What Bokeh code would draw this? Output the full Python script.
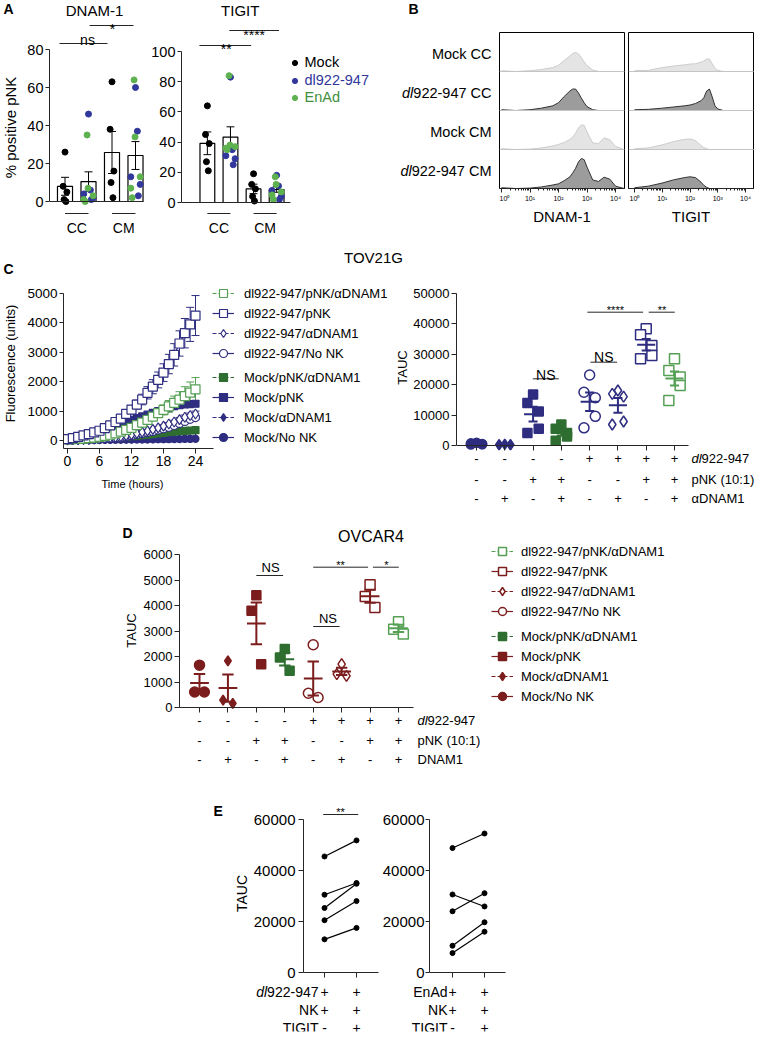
import math
from bokeh.plotting import figure
from bokeh.models import (Range1d, LinearAxis, LogAxis, FixedTicker, Legend, LegendItem, Span,
                          ColumnDataSource, Whisker, TeeHead, Grid)
from bokeh.layouts import row, column
from bokeh.embed import file_html
from bokeh.resources import INLINE
from bokeh.core.properties import value

# ======================= DATA =======================
# --- A: % positive pNK ---
a_group_labels = ["CC", "CM"]
a_legend_labels = ["Mock", "dl922-947", "EnAd"]
dnam_mock_cc = [26, 8, 5, 1, 0]
dnam_dl_cc = [46, 6, 4, 2, 1]
dnam_enad_cc = [35, 7, 3, 1, 0]
dnam_mock_cm = [63, 38, 16, 10, 2]
dnam_dl_cm = [60, 37, 13, 9, 3]
dnam_enad_cm = [64, 34, 13, 7, 2]
tigit_mock_cc = [64, 45, 39, 27, 21]
tigit_dl_cc = [83, 35, 31, 29, 25]
tigit_enad_cc = [84, 38, 37, 36, 35]
tigit_mock_cm = [19, 12, 9, 4, 1]
tigit_dl_cm = [18, 11, 8, 4, 2]
tigit_enad_cm = [17, 12, 7, 5, 2]

# --- B: flow histograms (log10 intensity grid, normalised counts) ---
b_row_labels = ["Mock CC", "dl922-947 CC", "Mock CM", "dl922-947 CM"]
b_axis_ticks = [1, 10, 100, 1000, 10000]
b_tick_labels = ["10\u2070", "10\u00b9", "10\u00b2", "10\u00b3", "10\u2074"]
hist_log10 = [0.0, 0.5, 1.0, 1.4, 1.8, 2.0, 2.2, 2.4, 2.5, 2.6, 2.7, 2.8, 2.9, 3.0, 3.2, 3.4, 3.6, 3.8, 4.0, 4.3]
dnam_mock_cc_h = [0.02, 0.0, 0.02, 0.05, 0.10, 0.16, 0.28, 0.40, 0.46, 0.49, 0.45, 0.36, 0.25, 0.15, 0.04, 0.0, 0.0, 0.0, 0.0, 0.0]
dnam_dl_cc_h = [0.02, 0.0, 0.02, 0.06, 0.12, 0.20, 0.36, 0.50, 0.55, 0.55, 0.45, 0.32, 0.20, 0.10, 0.02, 0.0, 0.0, 0.0, 0.0, 0.0]
dnam_mock_cm_h = [0.02, 0.0, 0.01, 0.04, 0.09, 0.13, 0.18, 0.26, 0.32, 0.42, 0.55, 0.63, 0.62, 0.45, 0.17, 0.15, 0.30, 0.25, 0.08, 0.0]
dnam_dl_cm_h = [0.02, 0.0, 0.01, 0.04, 0.09, 0.12, 0.20, 0.30, 0.40, 0.52, 0.68, 0.77, 0.74, 0.55, 0.22, 0.18, 0.29, 0.24, 0.06, 0.0]
tigit_mock_cc_h = [0.02, 0.03, 0.10, 0.14, 0.17, 0.19, 0.20, 0.24, 0.27, 0.32, 0.32, 0.20, 0.08, 0.03, 0.0, 0.0, 0.0, 0.0, 0.0, 0.0]
tigit_dl_cc_h = [0.02, 0.03, 0.06, 0.09, 0.12, 0.14, 0.18, 0.25, 0.33, 0.50, 0.55, 0.35, 0.12, 0.04, 0.0, 0.0, 0.0, 0.0, 0.0, 0.0]
tigit_mock_cm_h = [0.02, 0.04, 0.12, 0.20, 0.26, 0.27, 0.23, 0.10, 0.05, 0.02, 0.0, 0.0, 0.0, 0.0, 0.0, 0.0, 0.0, 0.0, 0.0, 0.0]
tigit_dl_cm_h = [0.02, 0.06, 0.14, 0.22, 0.28, 0.30, 0.28, 0.16, 0.08, 0.03, 0.0, 0.0, 0.0, 0.0, 0.0, 0.0, 0.0, 0.0, 0.0, 0.0]

# --- C: TOV21G fluorescence time course ---
hours = list(range(25))
c_time_ticks = [0, 6, 12, 18, 24]
c_fluo_ticks = [0, 1000, 2000, 3000, 4000, 5000]
c_dl_pnk_ab = [40, 45, 55, 65, 80, 100, 125, 155, 195, 245, 300, 360, 430, 520, 610, 700, 810, 930, 1040, 1160, 1280, 1390, 1510, 1630, 1740]
c_dl_pnk_ab_sem = [10, 10, 10, 12, 15, 18, 20, 25, 30, 35, 40, 50, 60, 70, 85, 100, 120, 140, 170, 200, 230, 270, 320, 360, 400]
c_dl_pnk = [46, 80, 126, 171, 217, 274, 331, 423, 514, 629, 743, 903, 1051, 1223, 1394, 1623, 1830, 2060, 2309, 2600, 2914, 3300, 3650, 3950, 4250]
c_dl_pnk_sem = [20, 20, 25, 30, 35, 40, 50, 60, 70, 80, 90, 110, 130, 150, 180, 210, 240, 270, 300, 330, 380, 430, 500, 580, 680]
c_dl_ab = [20, 25, 30, 35, 40, 50, 60, 75, 90, 110, 135, 165, 200, 240, 285, 330, 380, 430, 490, 560, 630, 710, 790, 850, 900]
c_dl_ab_sem = [5, 5, 5, 5, 5, 6, 7, 8, 10, 12, 14, 16, 18, 20, 24, 28, 32, 36, 42, 50, 58, 66, 75, 85, 100]
c_dl_nonk = [20, 22, 25, 30, 35, 42, 50, 62, 75, 90, 110, 135, 165, 200, 235, 270, 310, 355, 400, 450, 510, 580, 650, 720, 780]
c_dl_nonk_sem = [4, 4, 4, 5, 5, 6, 6, 7, 8, 9, 10, 12, 14, 16, 18, 20, 24, 28, 32, 36, 40, 46, 52, 60, 70]
c_mock_pnk_ab = [25, 30, 35, 40, 50, 60, 70, 80, 90, 100, 115, 130, 145, 160, 180, 200, 220, 240, 260, 280, 300, 315, 330, 340, 350]
c_mock_pnk = [30, 60, 100, 150, 200, 250, 300, 360, 420, 490, 560, 630, 700, 760, 820, 880, 940, 1000, 1060, 1120, 1170, 1200, 1225, 1240, 1250]
c_mock_ab = [10, 12, 14, 16, 18, 20, 22, 25, 28, 31, 34, 37, 40, 43, 46, 49, 52, 55, 58, 61, 64, 67, 70, 72, 75]
c_mock_nonk = [10, 11, 12, 14, 16, 18, 20, 22, 24, 26, 28, 30, 32, 34, 36, 38, 40, 42, 44, 46, 48, 50, 52, 55, 58]

# --- C right / D: TAUC per condition ---
conditions = ["Mock/No NK", "Mock/\u03b1DNAM1", "Mock/pNK", "Mock/pNK/\u03b1DNAM1",
              "dl922-947/No NK", "dl922-947/\u03b1DNAM1", "dl922-947/pNK", "dl922-947/pNK/\u03b1DNAM1"]
tbl_dl = ["-", "-", "-", "-", "+", "+", "+", "+"]
tbl_pnk = ["-", "-", "+", "+", "-", "-", "+", "+"]
tbl_ab = ["-", "+", "-", "+", "-", "+", "-", "+"]
tbl_rows_c = ["dl922-947", "pNK (10:1)", "\u03b1DNAM1"]
tbl_rows_d = ["dl922-947", "pNK (10:1)", "DNAM1"]
tov_ticks = [0, 10000, 20000, 30000, 40000, 50000]
tov_mock_nonk = [900, 700, 500, 400, 300]
tov_mock_ab = [400, 300, 300, 200, 200]
tov_mock_pnk = [16800, 14000, 11200, 5500, 4100]
tov_mock_pnk_ab = [6900, 5500, 4100, 3000, 1600]
tov_dl_nonk = [23200, 17500, 15700, 9600, 5800]
tov_dl_ab = [18100, 17000, 16100, 7900, 6900]
tov_dl_pnk = [38400, 36400, 32900, 29600, 28500]
tov_dl_pnk_ab = [28500, 24700, 22500, 19700, 14800]
ov_ticks = [0, 1000, 2000, 3000, 4000, 5000, 6000]
ov_mock_nonk = [1660, 610, 610]
ov_mock_ab = [1830, 290, 160]
ov_mock_pnk = [4400, 3790, 1700]
ov_mock_pnk_ab = [2290, 1960, 1440]
ov_dl_nonk = [2460, 560, 390]
ov_dl_ab = [1700, 1310, 1240]
ov_dl_pnk = [4810, 4350, 3920]
ov_dl_pnk_ab = [3360, 3070, 2880]

# --- E: paired TAUC, TIGIT blockade ---
e_ticks = [0, 20000, 40000, 60000]
e_left_pos = [1, 2]
e_right_pos = [5, 6]
e_dl_tigit_neg = [45500, 30500, 25300, 20500, 13000]
e_dl_tigit_pos = [51800, 35100, 34800, 28000, 17500]
e_enad_tigit_neg = [48800, 30600, 24000, 10500, 7600]
e_enad_tigit_pos = [54500, 25900, 31100, 19700, 16000]
e_rows_left = ["dl922-947", "NK", "TIGIT"]
e_rows_right = ["EnAd", "NK", "TIGIT"]
e_signs = [["+", "+"], ["+", "+"], ["-", "+"]]

# ======================= STYLE / HELPERS =======================
FONT = "Liberation Sans"
INK = "#262626"
NAVY = "#2e2d80"
GREEN = "#55a055"
DKGREEN = "#2f6e31"
MAROON = "#7c1d1d"
A_BLUE = "#31379b"
A_GREEN = "#5db14f"
A_GREEN_TXT = "#3f8f3f"
LIGHT_FILL, LIGHT_LINE = "#e4e4e4", "#cccccc"
DARK_FILL, DARK_LINE = "#9c9c9c", "#333333"
AW = {'-': 333, ' ': 278, 'C': 722, 'M': 833}
NAN = float("nan")


def tw(s, fs):
    return sum(AW.get(c, 556) for c in s) / 1000.0 * fs


def lin(d0, p0, d1, p1):
    k = (d1 - d0) / (p1 - p0)
    return lambda p: d0 + (p - p0) * k


def mean(v):
    return sum(v) / len(v)


def sem(v):
    m = mean(v)
    n = len(v)
    return math.sqrt(sum((a - m) ** 2 for a in v) / (n - 1)) / math.sqrt(n)


def fig(w, h, xr, yr, L=0, R=0, T=0, B=0, xtype="linear"):
    p = figure(width=w, height=h, x_range=Range1d(*xr), y_range=Range1d(*yr), x_axis_type=xtype,
               x_axis_location=None, y_axis_location=None, title=None, toolbar_location=None,
               output_backend="svg", min_border_left=L, min_border_right=R,
               min_border_top=T, min_border_bottom=B)
    p.center = [c for c in p.center if not isinstance(c, Grid)]
    p.outline_line_color = None
    return p


def W(f):
    # isolate each figure so the layout does not synchronise borders of siblings
    return column(f)


def axis(p, side, ticks, bounds="auto", fixed=None, fs="13px", out=5, tin=0, standoff=2, labels=True,
         overrides=None, log=False, minor=None, label=None, label_fs="13px", label_standoff=5):
    tk = FixedTicker(ticks=list(ticks), minor_ticks=list(minor or []))
    ax = (LogAxis if log else LinearAxis)(ticker=tk, bounds=bounds, fixed_location=fixed)
    ax.axis_line_color = INK
    ax.axis_line_width = 1
    ax.major_tick_line_color = INK
    ax.major_tick_out = out
    ax.major_tick_in = tin
    if minor:
        ax.minor_tick_line_color = INK
        ax.minor_tick_out = 2
        ax.minor_tick_in = 0
    else:
        ax.minor_tick_line_color = None
    ax.major_label_standoff = standoff if labels else 0
    ax.major_label_text_font = FONT
    ax.major_label_text_font_size = fs if labels else "0px"
    ax.major_label_text_color = "black" if labels else None
    if overrides:
        ax.major_label_overrides = overrides
    if label:
        ax.axis_label = label
        ax.axis_label_text_font = FONT
        ax.axis_label_text_font_size = label_fs
        ax.axis_label_text_font_style = "normal"
        ax.axis_label_text_color = "black"
        ax.axis_label_standoff = label_standoff
    p.add_layout(ax, side)
    return ax


def txt(p, xs, ys, texts, fs, align="center", baseline="middle", color="black", style="normal", angle=0.0):
    p.text(x=list(xs), y=list(ys), text=list(texts), text_font=value(FONT), text_font_size=value(fs),
           text_align=align, text_baseline=baseline, text_color=color, text_font_style=style, angle=angle)


def mixed(p, X, px, y, s, fsn, align):
    fs = "%gpx" % fsn
    if s.startswith("dl"):
        rest = s[2:]
        if align == "left":
            txt(p, [X(px)], [y], ["dl"], fs, align="left", style="italic")
            txt(p, [X(px + 0.778 * fsn)], [y], [rest], fs, align="left")
        else:
            txt(p, [X(px)], [y], [rest], fs, align="right")
            txt(p, [X(px - tw(rest, fsn))], [y], ["dl"], fs, align="right", style="italic")
    else:
        txt(p, [X(px)], [y], [s], fs, align=align)


def sig(p, Y, x0, x1, ypx, label, tx, tbase, fs):
    p.segment(x0=[x0], y0=[Y(ypx)], x1=[x1], y1=[Y(ypx)], line_color=INK, line_width=1)
    txt(p, [tx], [Y(tbase)], [label], fs, baseline="alphabetic")


def legend(p, items, loc, gw, gh, fs, standoff, color="black"):
    lg = Legend(items=[LegendItem(label=value(l), renderers=r) for l, r in items], location=loc,
                glyph_width=gw, glyph_height=gh, label_height=gh, label_standoff=standoff, spacing=0,
                padding=0, margin=0, border_line_color=None, background_fill_alpha=0,
                label_text_font=FONT, label_text_font_size=fs, label_text_color=color)
    p.add_layout(lg)


ident = lambda v: v
JIT_MOCK = [0.0, -0.08, 0.08, -0.04, 0.04]
JIT_BLUE = [0.0, 0.08, -0.2, 0.2, 0.12]
JIT_GREEN = [-0.06, -0.02, 0.2, -0.2, -0.14]
JIT5 = [0.0, -0.2, 0.2, 0.2, -0.2]
JIT3 = [0.0, -0.17, 0.17]

# ======================= ROW 1 : A + B  (y 0-240) =======================
H1 = 240
a0 = fig(20, H1, (0, 20), (H1, 0))
txt(a0, [3], [8], ["A"], "14px", align="left", style="bold")
txt(a0, [10], [127], ["% positive pNK"], "15px", angle=math.pi / 2)


def bar_panel(p, Y, mock_cc, dl_cc, en_cc, mock_cm, dl_cm, en_cm):
    pos = [1, 2, 3, 4]
    groups = [mock_cc, dl_cc + en_cc, mock_cm, dl_cm + en_cm]
    ms = [mean(g) for g in groups]
    ss = [sem(g) for g in groups]
    p.vbar(x=pos, top=ms, width=0.64, bottom=0, fill_color="white", line_color="black", line_width=1.2)
    p.segment(x0=pos, y0=[m - s for m, s in zip(ms, ss)], x1=pos, y1=[m + s for m, s in zip(ms, ss)],
              line_color="black", line_width=1)
    for sgn in (1, -1):
        p.segment(x0=[x - 0.17 for x in pos], y0=[m + sgn * s for m, s in zip(ms, ss)],
                  x1=[x + 0.17 for x in pos], y1=[m + sgn * s for m, s in zip(ms, ss)],
                  line_color="black", line_width=1)
    mx = [pos[0] + j for j in JIT_MOCK] + [pos[2] + j for j in JIT_MOCK]
    r_mock = p.scatter(x=mx, y=mock_cc + mock_cm, size=6, color="black")
    bx = [pos[1] + j for j in JIT_BLUE] + [pos[3] + j for j in JIT_BLUE]
    r_blue = p.scatter(x=bx, y=dl_cc + dl_cm, size=6, color=A_BLUE)
    gx = [pos[1] + j for j in JIT_GREEN] + [pos[3] + j for j in JIT_GREEN]
    r_green = p.scatter(x=gx, y=en_cc + en_cm, size=6, color=A_GREEN)
    p.segment(x0=pos[0::2], y0=[Y(213)] * 2, x1=pos[1::2], y1=[Y(213)] * 2, line_color=INK, line_width=1)
    txt(p, [(a + b) / 2 for a, b in zip(pos[0::2], pos[1::2])], [Y(227)] * 2, a_group_labels, "14px")
    return r_mock, r_blue, r_green


XA1 = lin(1, 64.5, 2, 88.0)
YA1 = lin(0, 201, 80, 49)
a1 = fig(128, H1, (XA1(49), XA1(148)), (YA1(236), YA1(0)), L=29, B=4)
axis(a1, "left", [0, 20, 40, 60, 80], (0, 80), fs="14.5px", out=4, standoff=2)
axis(a1, "below", [], (XA1(49), XA1(143)), fixed=0, out=0, labels=False)
bar_panel(a1, YA1, dnam_mock_cc, dnam_dl_cc, dnam_enad_cc, dnam_mock_cm, dnam_dl_cm, dnam_enad_cm)
txt(a1, [XA1(94)], [YA1(9.5)], ["DNAM-1"], "15px")
sig(a1, YA1, XA1(59), XA1(107), 43, "ns", XA1(87), 39.5, "14px")
sig(a1, YA1, XA1(89), XA1(133), 25, "*", XA1(112), 28, "14px")

XA2 = lin(1, 206, 2, 229.2)
YA2 = lin(0, 202, 100, 51)
a2 = fig(238, H1, (XA2(180), XA2(386)), (YA2(236), YA2(0)), L=32, B=4)
axis(a2, "left", [0, 20, 40, 60, 80, 100], (0, 100), fs="14.5px", out=4, standoff=2)
axis(a2, "below", [], (XA2(180), XA2(290)), fixed=0, out=0, labels=False)
rm, rb, rg = bar_panel(a2, YA2, tigit_mock_cc, tigit_dl_cc, tigit_enad_cc, tigit_mock_cm, tigit_dl_cm, tigit_enad_cm)
txt(a2, [XA2(239)], [YA2(9.5)], ["TIGIT"], "15px")
sig(a2, YA2, XA2(198), XA2(250), 45, "**", XA2(225), 48, "14px")
sig(a2, YA2, XA2(228), XA2(278), 30, "****", XA2(253), 34, "14px")
for (lab, r, col), ly in zip(zip(a_legend_labels, [rm, rb, rg], ["black", A_BLUE, A_GREEN_TXT]),
                             [165.5, 147.5, 130.5]):
    legend(a2, [(lab, [r])], (106.5, ly), 13, 17, "14.5px", 4, color=col)

b0 = fig(113, H1, (386, 499), (H1, 0))
txt(b0, [408], [8], ["B"], "14px", align="left", style="bold")
for i, lab in enumerate(b_row_labels):
    mixed(b0, ident, 491, 32 + 39 * (i + 0.5) + 2, lab, 14.5, "right")

SUP = {t: s for t, s in zip(b_axis_ticks, b_tick_labels)}
MINOR = [k * 10 ** d for d in range(4) for k in range(2, 10)]


def hist_panel(p, hists):
    xs = [10 ** v for v in hist_log10]
    for i, vals in enumerate(hists):
        base = 3 - i
        dark = i % 2 == 1
        top = [base + v for v in vals]
        p.varea(x=xs, y1=[base] * len(xs), y2=top, fill_color=DARK_FILL if dark else LIGHT_FILL)
        p.line(x=xs, y=top, line_color=DARK_LINE if dark else LIGHT_LINE, line_width=1)
    for k in (1, 2, 3):
        p.add_layout(Span(location=k, dimension="width", line_color="#c4c4c4", line_width=1))


LXa = lin(0, 501, 4, 615)
b1 = fig(127, H1, (10 ** LXa(499), 10 ** LXa(624)), (0, 4), R=2, T=32, B=52, xtype="log")
b1.outline_line_color = "black"
hist_panel(b1, [dnam_mock_cc_h, dnam_dl_cc_h, dnam_mock_cm_h, dnam_dl_cm_h])
axis(b1, "below", b_axis_ticks, fs="7px", out=4, standoff=2, overrides=SUP, log=True, minor=MINOR,
     label="DNAM-1", label_fs="15px", label_standoff=3)

LXb = lin(0, 634, 4, 745)
b2 = fig(130, H1, (10 ** LXb(628), 10 ** LXb(753)), (0, 4), L=2, R=3, T=32, B=52, xtype="log")
b2.outline_line_color = "black"
hist_panel(b2, [tigit_mock_cc_h, tigit_dl_cc_h, tigit_mock_cm_h, tigit_dl_cm_h])
axis(b2, "below", b_axis_ticks, fs="7px", out=4, standoff=2, overrides=SUP, log=True, minor=MINOR,
     label="TIGIT", label_fs="15px", label_standoff=3)

# ======================= ROW 2 : C  (y 240-512) =======================
sc = fig(756, 38, (0, 756), (278, 240))
txt(sc, [3], [268], ["C"], "14px", align="left", style="bold")
txt(sc, [373], [257], ["TOV21G"], "15px")

XC = lin(0, 67, 24, 195)
YC = lin(0, 440, 5000, 293)
cl = fig(391, 194, (XC(63), XC(391)), (YC(448), YC(278)), L=63, B=24)
axis(cl, "below", c_time_ticks, (XC(63), XC(213)), fs="14px", out=5, standoff=2)
axis(cl, "left", c_fluo_ticks, (YC(448), 5000), fs="13.5px", out=4, standoff=2,
     label="Fluorescence (units)", label_fs="13px", label_standoff=6)

c_styles = {  # label: (values, sem, color, marker, filled, dashed, size)
    "Mock/No NK": (c_mock_nonk, None, NAVY, "circle", True, False, 7),
    "Mock/\u03b1DNAM1": (c_mock_ab, None, NAVY, "diamond", True, True, 8),
    "Mock/pNK/\u03b1DNAM1": (c_mock_pnk_ab, None, DKGREEN, "square", True, True, 7),
    "Mock/pNK": (c_mock_pnk, None, NAVY, "square", True, False, 7),
    "dl922-947/No NK": (c_dl_nonk, c_dl_nonk_sem, NAVY, "circle", False, False, 8),
    "dl922-947/\u03b1DNAM1": (c_dl_ab, c_dl_ab_sem, NAVY, "diamond", False, True, 10),
    "dl922-947/pNK/\u03b1DNAM1": (c_dl_pnk_ab, c_dl_pnk_ab_sem, GREEN, "square", False, True, 9),
    "dl922-947/pNK": (c_dl_pnk, c_dl_pnk_sem, NAVY, "square", False, False, 9),
}
c_rend = {}
for lab, (vals, er, col, mk, filled, dashed, size) in c_styles.items():
    lr = cl.line(x=hours, y=vals, line_color=col, line_width=1.2, line_dash="4 2" if dashed else "solid")
    if er is not None:
        src = ColumnDataSource(dict(x=hours, lo=[v - e for v, e in zip(vals, er)], hi=[v + e for v, e in zip(vals, er)]))
        cl.add_layout(Whisker(source=src, base="x", lower="lo", upper="hi", dimension="height",
                              line_color=col, line_width=1,
                              upper_head=TeeHead(size=8, line_color=col, line_width=1),
                              lower_head=TeeHead(size=8, line_color=col, line_width=1)))
    sr = cl.scatter(x=hours, y=vals, marker=mk, size=size, line_color=col,
                    fill_color=col if filled else "white", line_width=1.2)
    c_rend[lab] = [lr, sr]
leg_order_1 = ["dl922-947/pNK/\u03b1DNAM1", "dl922-947/pNK", "dl922-947/\u03b1DNAM1", "dl922-947/No NK"]
leg_order_2 = ["Mock/pNK/\u03b1DNAM1", "Mock/pNK", "Mock/\u03b1DNAM1", "Mock/No NK"]
legend(cl, [(l, c_rend[l]) for l in leg_order_1], (149, 85), 22, 20, "13px", 10)
legend(cl, [(l, c_rend[l]) for l in leg_order_2], (149, 1), 22, 20, "13px", 10)

cls = fig(391, 40, (0, 391), (512, 472))
txt(cls, [132], [483], ["Time (hours)"], "11px")


def tauc_panel(p, groups, styles, jit, hw, cap):
    rends = []
    for i, (vals, (mk, col, filled, size)) in enumerate(zip(groups, styles)):
        pos = i + 1
        m, s = mean(vals), sem(vals)
        r = p.scatter(x=[pos + j for j in jit[:len(vals)]], y=vals, marker=mk, size=size, line_color=col,
                      fill_color=col if filled else "white", line_width=1.5)
        rends.append(r)
        p.segment(x0=[pos - hw], y0=[m], x1=[pos + hw], y1=[m], line_color=col, line_width=2)
        p.segment(x0=[pos, pos - cap, pos - cap], y0=[m - s, m + s, m - s],
                  x1=[pos, pos + cap, pos + cap], y1=[m + s, m + s, m - s], line_color=col, line_width=2)
    return rends


# y-axis title of the TAUC panel sits in its own narrow strip
ctl = fig(19, 234, (391, 410), (512, 278))
txt(ctl, [402], [367], ["TAUC"], "13px", angle=math.pi / 2)

XR = lin(1, 476, 8, 674)
YR = lin(0, 445, 50000, 293)
cr = fig(346, 234, (XR(456), XR(756)), (YR(506), YR(289)), L=46, T=11, B=6)
axis(cr, "left", tov_ticks, (0, 50000), fs="13px", out=5, standoff=2)
axis(cr, "below", list(range(1, 9)), (XR(456), XR(688)), fixed=0, out=5, labels=False)
c_tauc_styles = [("circle", NAVY, True, 9), ("diamond", NAVY, True, 10), ("square", NAVY, True, 9),
                 ("square", DKGREEN, True, 9), ("circle", NAVY, False, 10), ("diamond", NAVY, False, 11),
                 ("square", NAVY, False, 10), ("square", GREEN, False, 10)]
tauc_panel(cr, [tov_mock_nonk, tov_mock_ab, tov_mock_pnk, tov_mock_pnk_ab,
                tov_dl_nonk, tov_dl_ab, tov_dl_pnk, tov_dl_pnk_ab], c_tauc_styles, JIT5, 0.32, 0.16)
sig(cr, YR, 2.99, 3.91, 378.3, "NS", 3.45, 374.3, "14px")
sig(cr, YR, 5.03, 5.97, 361.7, "NS", 5.5, 356.7, "14px")
sig(cr, YR, 4.92, 6.89, 311.7, "****", 5.91, 309.6, "11px")
sig(cr, YR, 7.09, 8.01, 311.7, "**", 7.56, 309.6, "11px")
for ypx, signs, lab in zip([458, 479, 498], [tbl_dl, tbl_pnk, tbl_ab], tbl_rows_c):
    txt(cr, list(range(1, 9)), [YR(ypx)] * 8, signs, "13px")
    mixed(cr, XR, 691, YR(ypx), lab, 13, "left")

# ======================= ROW 3 : D  (y 512-776) =======================
XD = lin(1, 199, 8, 398)
YD = lin(0, 707, 6000, 554)
d = fig(756, 264, (XD(80), XD(756)), (YD(766), YD(512)), L=80, B=10)
axis(d, "left", ov_ticks, (0, 6000), fixed=XD(179), fs="13px", out=5, standoff=2)
axis(d, "below", list(range(1, 9)), (XD(179), XD(413)), fixed=0, out=5, labels=False)
txt(d, [XD(131)], [YD(630)], ["TAUC"], "13px", angle=math.pi / 2)
txt(d, [XD(122)], [YD(532)], ["D"], "14px", align="left", style="bold")
txt(d, [XD(370.5)], [YD(536)], ["OVCAR4"], "16px")
d_styles = [("circle", MAROON, True, 10), ("diamond", MAROON, True, 10), ("square", MAROON, True, 9),
            ("square", DKGREEN, True, 9), ("circle", MAROON, False, 10), ("diamond", MAROON, False, 11),
            ("square", MAROON, False, 10), ("square", GREEN, False, 10)]
d_rends = tauc_panel(d, [ov_mock_nonk, ov_mock_ab, ov_mock_pnk, ov_mock_pnk_ab,
                         ov_dl_nonk, ov_dl_ab, ov_dl_pnk, ov_dl_pnk_ab], d_styles, JIT3, 0.33, 0.2)
sig(d, YD, 3.0, 3.94, 575, "NS", 3.5, 567.3, "13px")
sig(d, YD, 5.0, 5.93, 626, "NS", 5.52, 617.7, "13px")
sig(d, YD, 5.0, 6.93, 566.7, "**", 5.96, 564.6, "11px")
sig(d, YD, 7.1, 8.01, 566.7, "*", 7.57, 564.6, "11px")
for ypx, signs, lab in zip([720, 740, 759], [tbl_dl, tbl_pnk, tbl_ab], tbl_rows_d):
    txt(d, list(range(1, 9)), [YD(ypx)] * 8, signs, "13px")
    mixed(d, XD, 417, YD(ypx), lab, 13, "left")
d_dashed = [False, True, False, True, False, True, False, True]
d_leg = {}
for lab, r, (mk, col, filled, size), dash in zip(conditions, d_rends, d_styles, d_dashed):
    # legend-only line sample (a single NaN point draws nothing in the plot)
    lr = d.line(x=[NAN], y=[NAN], line_color=col, line_width=1.2, line_dash="4 2" if dash else "solid")
    d_leg[lab] = [lr, r]
legend(d, [(l, d_leg[l]) for l in leg_order_1], (411, 145), 22, 20, "13px", 8)
legend(d, [(l, d_leg[l]) for l in leg_order_2], (411, 60), 22, 20, "13px", 8)

# ======================= ROW 4 : E  (y 776-1037) =======================
XE = lin(1, 324, 6, 484)
YE = lin(0, 972, 60000, 819)
e = fig(756, 261, (XE(110), XE(756)), (YE(1031), YE(782)), L=110, T=6, B=6)
axis(e, "left", e_ticks, (0, 60000), fixed=XE(303), fs="15px", out=5, standoff=3)
axis(e, "left", e_ticks, (0, 60000), fixed=XE(429), fs="15px", out=4, standoff=1)
axis(e, "below", e_left_pos, (XE(303), XE(378)), fixed=0, out=5, labels=False)
axis(e, "above", e_right_pos, (XE(429), XE(505)), fixed=0, out=0, tin=5, labels=False)
txt(e, [XE(213)], [YE(810)], ["E"], "14px", align="left", style="bold")
txt(e, [XE(241)], [YE(893)], ["TAUC"], "14px", angle=math.pi / 2)
sig(e, YE, XE(322.7), XE(357.7), 814, "**", XE(340), 811, "11px")


def paired(p, pos, before, after):
    n = len(before)
    p.segment(x0=[pos[0]] * n, y0=before, x1=[pos[1]] * n, y1=after, line_color="black", line_width=1.2)
    p.scatter(x=[pos[0]] * n + [pos[1]] * n, y=before + after, size=5, color="black")


paired(e, e_left_pos, e_dl_tigit_neg, e_dl_tigit_pos)
paired(e, e_right_pos, e_enad_tigit_neg, e_enad_tigit_pos)
for ypx, lab_l, lab_r, signs in zip([991, 1009, 1027], e_rows_left, e_rows_right, e_signs):
    mixed(e, XE, 318, YE(ypx), lab_l, 14, "right")
    mixed(e, XE, 447, YE(ypx), lab_r, 14, "right")
    txt(e, e_left_pos + e_right_pos, [YE(ypx)] * 4, signs + signs, "14px")

page = column(
    row(W(a0), W(a1), W(a2), W(b0), W(b1), W(b2)),
    W(sc),
    row(column(W(cl), W(cls)), W(ctl), W(cr)),
    W(d),
    W(e),
)
open("out.html", "w").write(file_html(page, INLINE, title="figure"))
